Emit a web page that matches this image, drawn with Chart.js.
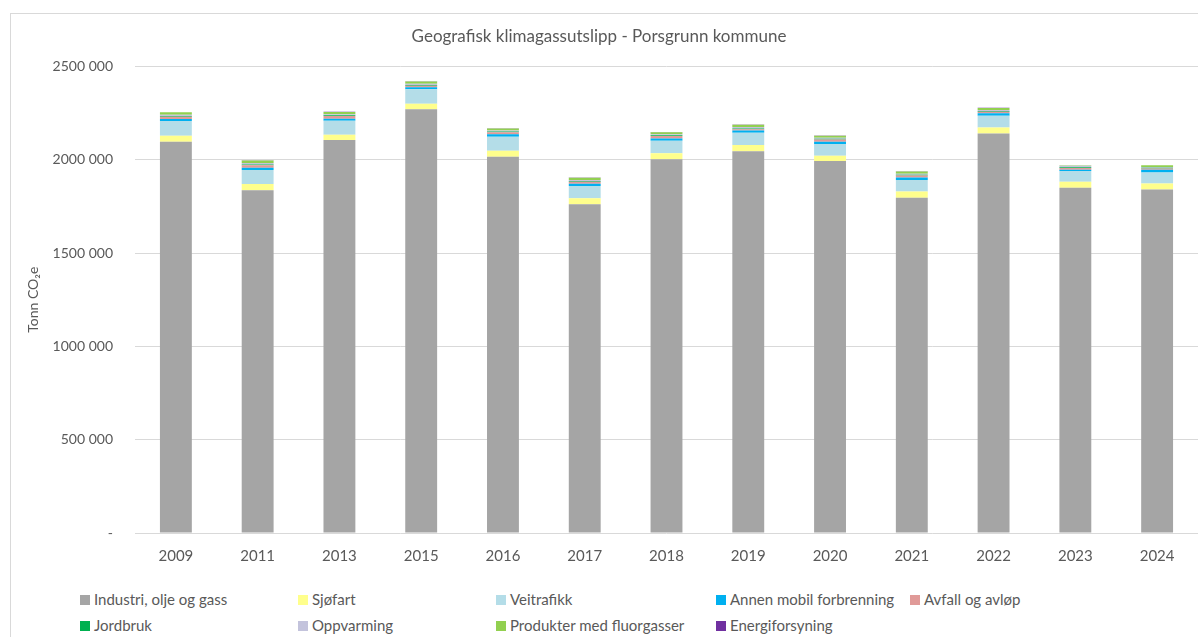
<!DOCTYPE html>
<html lang="no">
<head>
    <meta charset="UTF-8">
    <title>Geografisk klimagassutslipp - Porsgrunn kommune</title>
    <style>
        body {
            margin: 0;
            background: #ffffff;
            font-family: Lato, "Open Sans", sans-serif;
            overflow: hidden;
        }

        #frame {
            position: absolute;
            left: 10px;
            top: 13px;
            width: 1200px;
            height: 700px;
            border: 1px solid #d9d9d9;
        }

        #chartWrap {
            position: absolute;
            left: 0;
            top: 0;
            width: 1198px;
            height: 570px;
        }

        #legend {
            position: absolute;
            left: 0;
            top: 590px;
            width: 1198px;
            height: 50px;
            font-size: 15px;
            color: #595959;
        }

        .item {
            position: absolute;
            white-space: nowrap;
            line-height: 18px;
        }

        .box {
            display: inline-block;
            width: 10px;
            height: 10px;
            margin-right: 4px;
            vertical-align: 0px;
        }
    </style>
    <script src="https://cdn.jsdelivr.net/npm/chart.js"></script>
</head>
<body>
    <div id="frame"></div>
    <div id="chartWrap">
        <canvas id="chart" width="1198" height="570"></canvas>
    </div>
    <div id="legend"></div>

    <script>
        // data (tonn CO2e)
        const years = ['2009', '2011', '2013', '2015', '2016', '2017', '2018', '2019', '2020', '2021', '2022', '2023', '2024'];
        const industri = [2096000, 1837000, 2105000, 2270000, 2016000, 1761000, 2002000, 2046000, 1993000, 1796000, 2141000, 1850000, 1841000];
        const sjofart = [32000, 33000, 29000, 30000, 32000, 32000, 32000, 33000, 28000, 34000, 32000, 32000, 32000];
        const veitrafikk = [79000, 75000, 75000, 77000, 75000, 66000, 68000, 65000, 63000, 61000, 62000, 57000, 59000];
        const annenMobil = [11000, 12000, 10000, 11000, 13000, 12000, 12000, 12000, 12000, 14000, 14000, 7000, 14000];
        const avfall = [12000, 14000, 15000, 8000, 11000, 11000, 13000, 7000, 13000, 11000, 8000, 10000, 7000];
        const jordbruk = [4000, 4000, 4000, 4000, 4000, 4000, 4000, 4000, 4000, 4000, 4000, 3000, 4000];
        const oppvarming = [7000, 8000, 6000, 7000, 5000, 6000, 5000, 8000, 5000, 5000, 5000, 9000, 4000];
        const produkter = [13000, 13000, 12000, 12000, 11000, 12000, 11000, 13000, 11000, 12000, 11000, 2000, 9000];
        const energi = [1000, 1000, 1000, 1000, 1000, 1000, 1000, 1000, 1000, 1000, 1000, 1000, 1000];

        const seriesNames = ['Industri, olje og gass', 'Sjøfart', 'Veitrafikk', 'Annen mobil forbrenning', 'Avfall og avløp',
            'Jordbruk', 'Oppvarming', 'Produkter med fluorgasser', 'Energiforsyning'];
        const seriesValues = [industri, sjofart, veitrafikk, annenMobil, avfall, jordbruk, oppvarming, produkter, energi];
        const seriesColors = ['#a5a5a5', '#ffff8c', '#b4dde8', '#00b0f0', '#e09a98', '#00b050', '#c3c3dc', '#92d050', '#7030a0'];

        // x position of each legend column (layout, not data)
        const legendCols = [80, 298, 496, 716, 910];

        const textColor = '#595959';

        function fmtTick(v) {
            if (v === 0) return '-';
            return Math.floor(v / 1000) + ' 000';
        }

        const datasets = seriesNames.map((name, i) => ({
            label: name,
            data: seriesValues[i],
            backgroundColor: seriesColors[i],
            borderWidth: 0,
            barPercentage: 0.39,
            categoryPercentage: 1.0
        }));

        const ctx = document.getElementById('chart').getContext('2d');
        const chart = new Chart(ctx, {
            type: 'bar',
            data: {
                labels: years,
                datasets: datasets
            },
            options: {
                responsive: false,
                animation: false,
                layout: {
                    padding: { left: 0, right: 0, top: 0, bottom: 0 }
                },
                plugins: {
                    legend: { display: false },
                    tooltip: { enabled: false },
                    title: {
                        display: true,
                        text: 'Geografisk klimagassutslipp - Porsgrunn kommune',
                        color: textColor,
                        font: { family: 'Lato', size: 17, weight: 'normal' },
                        padding: { top: 26, bottom: 20 }
                    }
                },
                scales: {
                    x: {
                        stacked: true,
                        grid: { display: false },
                        border: { display: false },
                        ticks: {
                            color: textColor,
                            font: { family: 'Lato', size: 15 },
                            padding: 6,
                            maxRotation: 0
                        },
                        afterFit: s => { s.height = 37; }
                    },
                    y: {
                        stacked: true,
                        min: 0,
                        max: 2500000,
                        grid: {
                            color: '#d9d9d9',
                            drawTicks: false
                        },
                        border: { display: false },
                        ticks: {
                            stepSize: 500000,
                            color: textColor,
                            font: { family: 'Lato', size: 14 },
                            padding: 22,
                            callback: v => fmtTick(v)
                        },
                        title: {
                            display: true,
                            text: 'Tonn CO₂e',
                            color: textColor,
                            font: { family: 'Lato', size: 14 },
                            padding: { top: 25, bottom: 0 }
                        },
                        afterFit: s => { s.width = 135; }
                    }
                }
            }
        });

        // legend laid out in columns like the original
        const legend = document.getElementById('legend');
        chart.data.datasets.forEach((ds, i) => {
            const item = document.createElement('div');
            item.className = 'item';
            item.style.left = legendCols[i % 5] + 'px';
            item.style.top = (Math.floor(i / 5) * 26) + 'px';
            item.innerHTML = `<span class="box" style="background:${ds.backgroundColor}"></span>${ds.label}`;
            legend.appendChild(item);
        });
    </script>
</body>
</html>
